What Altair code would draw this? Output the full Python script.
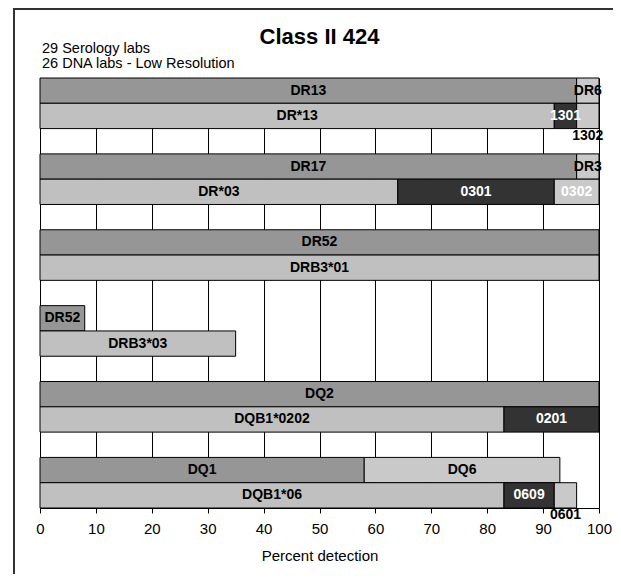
import altair as alt
import pandas as pd

# ---- data ----
row_order = [str(i) for i in range(1, 18)]  # 17 slots: pairs of bars + empty gap rows

seg_row   = [1, 1, 2, 2, 2, 4, 4, 5, 5, 5, 7, 8, 10, 11, 13, 14, 14, 16, 16, 17, 17, 17]
seg_start = [0, 96, 0, 92, 96, 0, 96, 0, 64, 92, 0, 0, 0, 0, 0, 0, 83, 0, 58, 0, 83, 92]
seg_end   = [96, 100, 92, 96, 100, 96, 100, 64, 92, 100, 100, 100, 8, 35, 100, 83, 100, 58, 93, 83, 92, 96]
seg_kind  = ["med", "dot", "light", "dark", "dot", "med", "dot", "light", "dark", "dot",
             "med", "light", "med", "light", "med", "light", "dark", "med", "dot", "light", "dark", "dot"]
seg_label = ["DR13", "DR6", "DR*13", "1301", "1302", "DR17", "DR3", "DR*03", "0301", "0302",
             "DR52", "DRB3*01", "DR52", "DRB3*03", "DQ2", "DQB1*0202", "0201", "DQ1", "DQ6",
             "DQB1*06", "0609", "0601"]
seg_label_color = ["black", "black", "black", "white", "black", "black", "black", "black", "white", "white",
                   "black", "black", "black", "black", "black", "black", "white", "black", "black",
                   "black", "white", "black"]
seg_label_pos = ["in", "in", "in", "in", "below", "in", "in", "in", "in", "in",
                 "in", "in", "in", "in", "in", "in", "in", "in", "in",
                 "in", "in", "below"]

x_ticks = [0, 10, 20, 30, 40, 50, 60, 70, 80, 90, 100]
title_text = "Class II 424"
subtitle_lines = ["29 Serology labs", "26 DNA labs - Low Resolution"]
x_title = "Percent detection"

kind_domain = ["med", "light", "dark", "dot"]
kind_colors = ["#969696", "#c0c0c0", "#333333", "#c9c9c9"]

df = pd.DataFrame({
    "row": [str(r) for r in seg_row],
    "start": seg_start,
    "end": seg_end,
    "kind": seg_kind,
    "label": seg_label,
    "lcolor": seg_label_color,
    "pos": seg_label_pos,
})
df["mid"] = (df["start"] + df["end"]) / 2

W, H = 559, 430
FONT = "Liberation Sans"

xscale = alt.Scale(domain=[0, 100], nice=False, zero=False)
yscale = alt.Scale(domain=row_order, paddingInner=0, paddingOuter=0)

base = alt.Chart(df)

bars = base.mark_bar(stroke="black", strokeWidth=1, cornerRadius=0).encode(
    x=alt.X("start:Q", scale=xscale,
            axis=alt.Axis(values=x_ticks, grid=True, gridColor="black", gridWidth=1,
                          domainColor="black", domainWidth=1, tickColor="black", tickSize=5,
                          labelFontSize=15, labelFont=FONT, labelColor="black", labelPadding=8,
                          labelFlush=False, title=x_title, titleFont=FONT, titleFontSize=15,
                          titleFontWeight="normal", titleColor="black", titlePadding=12)),
    x2="end:Q",
    y=alt.Y("row:N", scale=yscale, sort=row_order, axis=None),
    fill=alt.Fill("kind:N", scale=alt.Scale(domain=kind_domain, range=kind_colors), legend=None),
)

labels_in = base.transform_filter(alt.datum.pos == "in").mark_text(
    font=FONT, fontSize=14, fontWeight="bold", align="center", baseline="middle"
).encode(
    x=alt.X("mid:Q", scale=xscale),
    y=alt.Y("row:N", scale=yscale, sort=row_order),
    text="label:N",
    color=alt.Color("lcolor:N", scale=None),
)

labels_below = base.transform_filter(alt.datum.pos == "below").mark_text(
    font=FONT, fontSize=14, fontWeight="bold", align="center", baseline="middle", dy=20
).encode(
    x=alt.X("mid:Q", scale=xscale),
    y=alt.Y("row:N", scale=yscale, sort=row_order),
    text="label:N",
    color=alt.Color("lcolor:N", scale=None),
)

title = alt.Chart(pd.DataFrame({"t": [title_text]})).mark_text(
    font=FONT, fontSize=22, fontWeight="bold", align="center", baseline="alphabetic", color="black"
).encode(x=alt.value(W / 2), y=alt.value(-34), text="t:N")

sub = alt.Chart(pd.DataFrame({"t": subtitle_lines, "k": [0, 1]})).mark_text(
    font=FONT, fontSize=14.5, align="left", baseline="alphabetic", color="black"
)
sub1 = sub.transform_filter(alt.datum.k == 0).encode(x=alt.value(2), y=alt.value(-25), text="t:N")
sub2 = sub.transform_filter(alt.datum.k == 1).encode(x=alt.value(2), y=alt.value(-10), text="t:N")

frame_top = alt.Chart(pd.DataFrame({"a": [0]})).mark_rule(color="#333333", strokeWidth=2).encode(
    x=alt.value(-27), x2=alt.value(W + 20), y=alt.value(-69))
frame_left = alt.Chart(pd.DataFrame({"a": [0]})).mark_rule(color="#333333", strokeWidth=2).encode(
    x=alt.value(-26), y=alt.value(-70), y2=alt.value(H + 80))

chart = alt.layer(bars, labels_in, labels_below, title, sub1, sub2, frame_top, frame_left).properties(
    width=W, height=H,
    padding={"left": 32, "top": 70, "right": 14, "bottom": 66},
    autosize=alt.AutoSizeParams(type="none"),
    background="white",
).configure_view(stroke=None).configure(font=FONT)

chart.save("out.html", embed_options={"renderer": "svg", "actions": False})
